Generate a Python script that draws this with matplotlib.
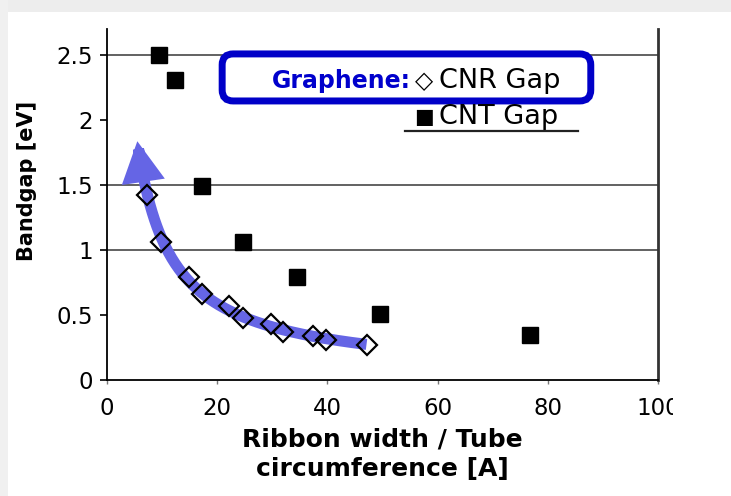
import matplotlib.pyplot as plt
import numpy as np
from matplotlib.patches import FancyBboxPatch, FancyArrowPatch, Rectangle
from matplotlib.path import Path

# graphene nanoribbon gap (open diamonds)
cnr_width = [7.3, 9.8, 14.8, 17.3, 22.2, 24.6, 29.7, 32.0, 37.3, 39.7, 47.1]
cnr_gap = [1.42, 1.06, 0.79, 0.66, 0.57, 0.48, 0.43, 0.37, 0.34, 0.31, 0.27]

# carbon nanotube gap (filled squares)
cnt_circ = [9.4, 12.3, 17.2, 24.7, 34.5, 49.5, 76.8]
cnt_gap = [2.50, 2.31, 1.49, 1.06, 0.79, 0.51, 0.35]

x_ticks = [0, 20, 40, 60, 80, 100]
y_ticks = [0, 0.5, 1, 1.5, 2, 2.5]
y_tick_labels = ['0', '0.5', '1', '1.5', '2', '2.5']
grid_levels = [1.0, 1.5, 2.5]

W, H = 731, 496
fig = plt.figure(figsize=(W / 100, H / 100), dpi=100)

# light grey frame along the top and left edge
fig.add_artist(Rectangle((0, 1 - 12 / H), 1, 12 / H, transform=fig.transFigure,
                         color='#ededed', lw=0, zorder=-5))
fig.add_artist(Rectangle((0, 0), 8 / W, 1, transform=fig.transFigure,
                         color='#f0f0f0', lw=0, zorder=-5))

ax = fig.add_axes([107 / W, 116 / H, 551 / W, 351 / H])
ax.set_xlim(0, 100)
ax.set_ylim(0, 2.7)

for lvl in grid_levels:
    ax.axhline(lvl, color='#555555', lw=1.3, zorder=1)

# power-law trend through the ribbon gaps, drawn as a curved arrow
slope, icpt = np.polyfit(np.log(cnr_width), np.log(cnr_gap), 1)
xs = np.linspace(max(cnr_width), 5.5, 200)
ys = np.exp(icpt) * xs ** slope
arrow = FancyArrowPatch(path=Path(np.column_stack([xs, ys])),
                        arrowstyle='-|>,head_length=17,head_width=9',
                        mutation_scale=1, lw=8, color='#6565e5',
                        joinstyle='miter', capstyle='butt', zorder=2)
ax.add_patch(arrow)

ax.plot(cnr_width, cnr_gap, 'D', ms=10, mfc='none', mec='black', mew=1.6,
        zorder=3, clip_on=False)
ax.plot(cnt_circ, cnt_gap, 's', ms=11, color='black', zorder=3, clip_on=False)

ax.spines['top'].set_visible(False)
ax.spines['right'].set_color('#333333')
ax.spines['right'].set_linewidth(2)
ax.spines['left'].set_linewidth(1.3)
ax.spines['bottom'].set_linewidth(1.3)

ax.set_xticks(x_ticks)
ax.set_yticks(y_ticks)
ax.set_yticklabels(y_tick_labels)
ax.tick_params(axis='y', length=5, width=1.2, pad=5, labelsize=16.5)
ax.tick_params(axis='x', length=3, width=1, color='#777777', pad=9, labelsize=16.5)

ax.set_xlabel('Ribbon width / Tube\ncircumference [A]', fontsize=18,
              fontweight='bold', linespacing=1.3)
ax.xaxis.set_label_coords(0.5, -0.135)
ax.set_ylabel('Bandgap [eV]', fontsize=15, fontweight='bold')
ax.yaxis.set_label_coords(-0.127, 0.567)

# legend with the highlighted graphene entry
box = FancyBboxPatch((0.209, 0.795), 0.669, 0.134,
                     boxstyle='round,pad=0,rounding_size=0.02',
                     mutation_aspect=551 / 351, transform=ax.transAxes,
                     fc='white', ec='#0000c8', lw=5, zorder=4, clip_on=False)
ax.add_patch(box)
ax.text(0.2995, 0.852, 'Graphene:', transform=ax.transAxes, color='#0000cc',
        fontsize=17, fontweight='bold', va='center', ha='left', zorder=5)
ax.text(0.576, 0.852, '\u25c7', transform=ax.transAxes, fontsize=17,
        va='center', ha='center', zorder=5)
ax.text(0.6025, 0.852, 'CNR Gap', transform=ax.transAxes, fontsize=19.5,
        va='center', ha='left', zorder=5)
ax.text(0.576, 0.748, '\u25a0', transform=ax.transAxes, fontsize=15,
        va='center', ha='center', zorder=5)
ax.text(0.6025, 0.748, 'CNT Gap', transform=ax.transAxes, fontsize=19.5,
        va='center', ha='left', zorder=5)
ax.plot([0.541, 0.855], [0.708, 0.708], transform=ax.transAxes, color='#222222',
        lw=1.6, clip_on=False, zorder=5)

# the chart area ends just before the last x tick label does
fig.add_artist(Rectangle((673 / W, 70 / H), (W - 673) / W, 40 / H,
                         transform=fig.transFigure, color='white', lw=0, zorder=10))

fig.savefig('out.png', dpi=100)
